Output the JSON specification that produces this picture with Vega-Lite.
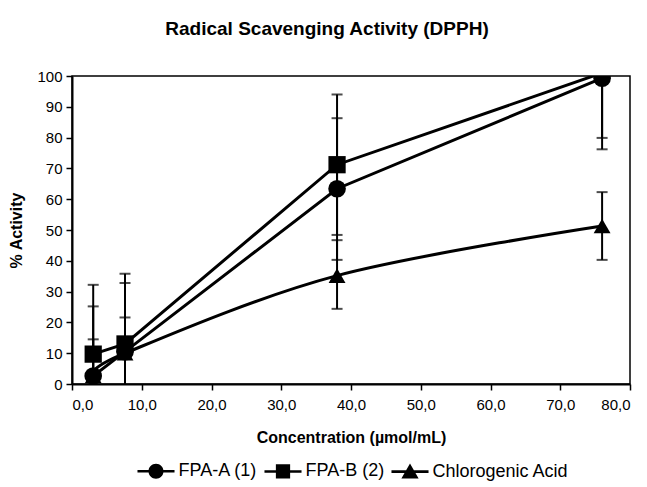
{
  "$schema": "https://vega.github.io/schema/vega-lite/v6.json",
  "width": 558,
  "height": 308,
  "autosize": {"type": "none"},
  "padding": {"left": 72, "top": 76, "right": 17, "bottom": 103},
  "background": "white",
  "config": {
    "font": "Liberation Sans",
    "view": {"stroke": "black", "strokeWidth": 1.5},
    "axis": {
      "domainColor": "black", "domainWidth": 2,
      "tickColor": "black", "tickWidth": 1.5, "tickSize": 6,
      "labelColor": "black", "labelFontSize": 15, "labelFont": "Liberation Sans",
      "titleColor": "black", "titleFontSize": 16, "titleFontWeight": "bold", "titleFont": "Liberation Sans",
      "grid": false
    }
  },
  "title": {
    "text": "Radical Scavenging Activity (DPPH)",
    "fontSize": 19, "fontWeight": "bold", "font": "Liberation Sans", "color": "black",
    "anchor": "middle", "offset": 30, "dx": -24
  },
  "data": {
    "values": [
      {"series": "FPA-A (1)", "conc": 3.04, "act": 2.6, "lo": -20.0, "hi": 25.2},
      {"series": "FPA-A (1)", "conc": 7.6, "act": 10.5, "lo": -11.8, "hi": 32.8},
      {"series": "FPA-A (1)", "conc": 38, "act": 63.4, "lo": 40.3, "hi": 86.3},
      {"series": "FPA-A (1)", "conc": 76, "act": 99.3, "lo": 76.2, "hi": 122.4},
      {"series": "FPA-B (2)", "conc": 3.04, "act": 9.7, "lo": -12.8, "hi": 32.2},
      {"series": "FPA-B (2)", "conc": 7.6, "act": 13.0, "lo": -9.8, "hi": 35.8},
      {"series": "FPA-B (2)", "conc": 38, "act": 71.2, "lo": 48.4, "hi": 94.0},
      {"series": "FPA-B (2)", "conc": 76, "act": 101.0, "lo": 79.9, "hi": 122.0},
      {"series": "Chlorogenic Acid", "conc": 3.04, "act": 2.6, "lo": -9.3, "hi": 14.5},
      {"series": "Chlorogenic Acid", "conc": 7.6, "act": 10.0, "lo": -1.6, "hi": 21.6},
      {"series": "Chlorogenic Acid", "conc": 38, "act": 35.2, "lo": 24.4, "hi": 46.7},
      {"series": "Chlorogenic Acid", "conc": 76, "act": 51.3, "lo": 40.3, "hi": 62.3}
    ]
  },
  "encoding": {
    "x": {
      "field": "conc", "type": "quantitative",
      "scale": {"domain": [0, 80], "nice": false, "zero": false},
      "axis": {
        "title": "Concentration (µmol/mL)",
        "values": [0, 10, 20, 30, 40, 50, 60, 70, 80],
        "labelExpr": "replace(format(datum.value, '.1f'), '.', ',')",
        "labelPadding": 7, "titlePadding": 17
      }
    }
  },
  "layer": [
    {
      "transform": [{"filter": "datum.series != 'Chlorogenic Acid'"}],
      "mark": {"type": "line", "color": "black", "strokeWidth": 3, "clip": true},
      "encoding": {
        "y": {"field": "act", "type": "quantitative", "scale": {"domain": [0, 100], "nice": false},
              "axis": {"title": "% Activity", "values": [0, 10, 20, 30, 40, 50, 60, 70, 80, 90, 100], "labelPadding": 4, "titlePadding": 12, "labelOverlap": false}},
        "detail": {"field": "series", "type": "nominal"}
      }
    },
    {
      "transform": [{"filter": "datum.series == 'Chlorogenic Acid'"}],
      "mark": {"type": "line", "color": "black", "strokeWidth": 3, "clip": true, "interpolate": "cardinal", "tension": 0},
      "encoding": {
        "y": {"field": "act", "type": "quantitative",
              "axis": {"title": "% Activity", "values": [0, 10, 20, 30, 40, 50, 60, 70, 80, 90, 100], "labelPadding": 4, "titlePadding": 12, "labelOverlap": false}}
      }
    },
    {
      "mark": {"type": "rule", "color": "black", "strokeWidth": 2, "clip": true},
      "encoding": {
        "y": {"field": "lo", "type": "quantitative",
              "axis": {"title": "% Activity", "values": [0, 10, 20, 30, 40, 50, 60, 70, 80, 90, 100], "labelPadding": 4, "titlePadding": 12, "labelOverlap": false}},
        "y2": {"field": "hi"}
      }
    },
    {
      "mark": {"type": "tick", "color": "black", "orient": "horizontal", "size": 11, "thickness": 2, "clip": true},
      "encoding": {"y": {"field": "lo", "type": "quantitative",
              "axis": {"title": "% Activity", "values": [0, 10, 20, 30, 40, 50, 60, 70, 80, 90, 100], "labelPadding": 4, "titlePadding": 12, "labelOverlap": false}}}
    },
    {
      "mark": {"type": "tick", "color": "black", "orient": "horizontal", "size": 11, "thickness": 2, "clip": true},
      "encoding": {"y": {"field": "hi", "type": "quantitative",
              "axis": {"title": "% Activity", "values": [0, 10, 20, 30, 40, 50, 60, 70, 80, 90, 100], "labelPadding": 4, "titlePadding": 12, "labelOverlap": false}}}
    },
    {
      "transform": [{"filter": "datum.act <= 100"}],
      "mark": {"type": "point", "filled": true, "color": "black", "opacity": 1, "clip": true},
      "encoding": {
        "y": {"field": "act", "type": "quantitative",
              "axis": {"title": "% Activity", "values": [0, 10, 20, 30, 40, 50, 60, 70, 80, 90, 100], "labelPadding": 4, "titlePadding": 12, "labelOverlap": false}},
        "shape": {"field": "series", "type": "nominal",
                  "scale": {"domain": ["FPA-A (1)", "FPA-B (2)", "Chlorogenic Acid"], "range": ["circle", "square", "triangle-up"]},
                  "legend": null},
        "size": {"field": "series", "type": "nominal",
                 "scale": {"domain": ["FPA-A (1)", "FPA-B (2)", "Chlorogenic Acid"], "range": [310, 285, 360]},
                 "legend": null}
      }
    },
    {
      "transform": [{"filter": "false"}],
      "mark": {"type": "point", "filled": true, "color": "black", "opacity": 1},
      "encoding": {
        "y": {"field": "act", "type": "quantitative",
              "axis": {"title": "% Activity", "values": [0, 10, 20, 30, 40, 50, 60, 70, 80, 90, 100], "labelPadding": 4, "titlePadding": 12, "labelOverlap": false}},
        "shape": {"field": "series", "type": "nominal",
                  "scale": {"domain": ["FPA-A (1)", "FPA-B (2)", "Chlorogenic Acid"],
                            "range": [
                              "M-2.47,-0.17L2.47,-0.17L2.47,0.17L-2.47,0.17ZM1,0A1,1 0 1,1 -1,0A1,1 0 1,1 1,0Z",
                              "M-2.47,-0.17L2.47,-0.17L2.47,0.17L-2.47,0.17ZM-0.95,-0.95L0.95,-0.95L0.95,0.95L-0.95,0.95Z",
                              "M-2.47,-0.17L2.47,-0.17L2.47,0.17L-2.47,0.17ZM0,-1.1L1.15,0.9L-1.15,0.9Z"
                            ]},
                  "legend": {
                    "title": null, "orient": "none", "direction": "horizontal",
                    "legendX": 75, "legendY": 386,
                    "labelFontSize": 18, "labelFont": "Liberation Sans", "labelColor": "black",
                    "symbolSize": 225, "labelOffset": 13.5, "columnPadding": 3,
                    "symbolFillColor": "black", "symbolStrokeColor": "black", "symbolOpacity": 1
                  }}
      }
    }
  ],
  "resolve": {"scale": {"shape": "independent", "size": "independent"}, "legend": {"shape": "independent", "size": "independent"}}
}
